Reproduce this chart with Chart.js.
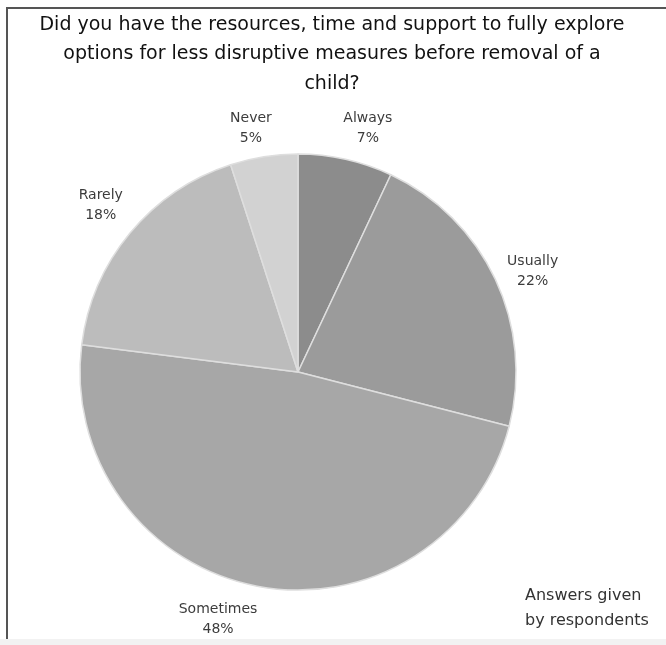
<!DOCTYPE html>
<html>
<head>
<meta charset="utf-8">
<script src="https://cdn.jsdelivr.net/npm/chart.js@4/dist/chart.umd.min.js"></script>
<style>
  body { margin: 0; background: #fff; }
  #wrap { position: relative; width: 666px; height: 645px; overflow: hidden; }
  #frame { position: absolute; left: 6px; top: 7px; width: 700px; height: 700px;
           border-top: 2px solid #555; border-left: 2px solid #555; }
  #foot { position: absolute; left: 0; top: 639px; width: 666px; height: 6px; background: #f2f2f2; }
  canvas { position: absolute; left: 0; top: 0; }
</style>
</head>
<body>
<div id="wrap">
  <div id="frame"></div>
  <div id="foot"></div>
  <canvas id="pieCanvas" width="666" height="645"></canvas>
</div>
<script>
var answers = ['Always', 'Usually', 'Sometimes', 'Rarely', 'Never'];
var percents = [7, 22, 48, 18, 5];
var titleLines = ['Did you have the resources, time and support to fully explore',
                  'options for less disruptive measures before removal of a',
                  'child?'];
var noteLines = ['Answers given', 'by respondents'];

var sliceColors = ['#8c8c8c', '#9b9b9b', '#a7a7a7', '#bcbcbc', '#d2d2d2'];
// small hand tweaks so the outside labels sit where the original put them
var labelNudge = [[14, 6], [3, 8], [-32, -4], [0, -3], [-7, 9]];

var outsideLabels = {
    id: 'outsideLabels',
    afterDraw: function(chart) {
        var ctx = chart.ctx;
        var meta = chart.getDatasetMeta(0);
        ctx.save();

        // title
        ctx.fillStyle = '#111';
        ctx.font = '19px "DejaVu Sans"';
        ctx.textAlign = 'center';
        ctx.textBaseline = 'middle';
        for (var t = 0; t < titleLines.length; t++) {
            ctx.fillText(titleLines[t], 332, 25 + t * 29.5);
        }

        // slice labels
        ctx.fillStyle = '#3c3c3c';
        ctx.font = '14px "DejaVu Sans"';
        meta.data.forEach(function(arc, i) {
            var mid = (arc.startAngle + arc.endAngle) / 2;
            var r = arc.outerRadius + 38;
            var x = arc.x + Math.cos(mid) * r + labelNudge[i][0];
            var y = arc.y + Math.sin(mid) * r + labelNudge[i][1];
            ctx.fillText(answers[i], x, y - 10);
            ctx.fillText(percents[i] + '%', x, y + 10);
        });

        // note bottom right
        ctx.fillStyle = '#333';
        ctx.font = '16px "DejaVu Sans"';
        ctx.textAlign = 'left';
        ctx.fillText(noteLines[0], 525, 596);
        ctx.fillText(noteLines[1], 525, 621);
        ctx.restore();
    }
};

var pieChart = new Chart(document.getElementById('pieCanvas'), {
    type: 'pie',
    data: {
        labels: answers,
        datasets: [{
            data: percents,
            backgroundColor: sliceColors,
            borderColor: '#dedede',
            borderWidth: 1.5,
            hoverOffset: 0
        }]
    },
    options: {
        responsive: false,
        animation: false,
        radius: 218,
        layout: { padding: { left: 80, right: 150, top: 154, bottom: 55 } },
        plugins: {
            legend: { display: false },
            tooltip: { enabled: false }
        }
    },
    plugins: [outsideLabels]
});
</script>
</body>
</html>
